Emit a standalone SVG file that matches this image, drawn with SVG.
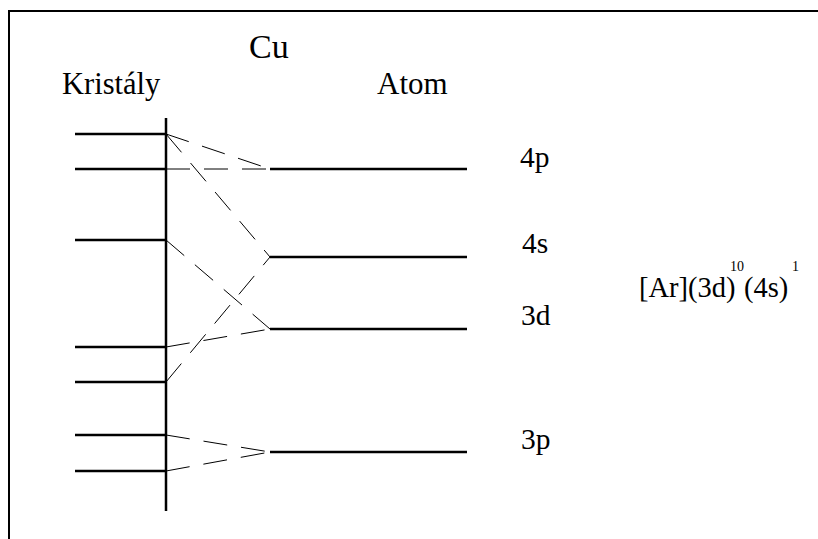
<svg xmlns="http://www.w3.org/2000/svg" width="818" height="539" viewBox="0 0 818 539">
<style>
text{font-family:"Liberation Serif","Times New Roman",serif;fill:#000}
.lv{stroke:#000;stroke-width:2.5;fill:none}
.cn{stroke:#000;stroke-width:1;stroke-dasharray:24 14;fill:none}
.fr{stroke:#000;stroke-width:2;fill:none}
</style>
<rect width="818" height="539" fill="#fff"/>
<path class="fr" d="M9,539 V11 H818"/>
<g id="titles">
<text x="249" y="58" font-size="34">Cu</text>
<text x="62" y="94" font-size="30.5">Kristály</text>
<text x="377" y="94" font-size="31">Atom</text>
</g>
<g id="crystal">
<line class="lv" x1="166" y1="118" x2="166" y2="511"/>
<line class="lv" x1="75" y1="134" x2="166" y2="134"/>
<line class="lv" x1="75" y1="169" x2="166" y2="169"/>
<line class="lv" x1="75" y1="240" x2="166" y2="240"/>
<line class="lv" x1="75" y1="347" x2="166" y2="347"/>
<line class="lv" x1="75" y1="382" x2="166" y2="382"/>
<line class="lv" x1="75" y1="435" x2="166" y2="435"/>
<line class="lv" x1="75" y1="471" x2="166" y2="471"/>
</g>
<g id="atom-4p"><line class="lv" x1="270" y1="169" x2="467" y2="169"/><text x="520" y="167" font-size="29.5">4p</text></g>
<g id="atom-4s"><line class="lv" x1="270" y1="257" x2="467" y2="257"/><text x="522" y="253" font-size="29.5">4s</text></g>
<g id="atom-3d"><line class="lv" x1="270" y1="329" x2="467" y2="329"/><text x="521" y="325" font-size="29.5">3d</text></g>
<g id="atom-3p"><line class="lv" x1="270" y1="452" x2="467" y2="452"/><text x="521" y="449" font-size="29.5">3p</text></g>
<g id="config">
<text x="639" y="297" font-size="28.5">[Ar](3d)</text>
<text x="730" y="271" font-size="14">10</text>
<text x="744" y="297" font-size="28.5">(4s)</text>
<text x="792" y="271" font-size="14">1</text>
</g>
<g id="connectors">
<line class="cn" x1="166" y1="134" x2="270" y2="169"/>
<line class="cn" x1="166" y1="169" x2="270" y2="169"/>
<line class="cn" x1="166" y1="134" x2="270" y2="257"/>
<line class="cn" x1="166" y1="240" x2="270" y2="329"/>
<line class="cn" x1="166" y1="382" x2="270" y2="257"/>
<line class="cn" x1="166" y1="347" x2="270" y2="329"/>
<line class="cn" x1="166" y1="435" x2="270" y2="452"/>
<line class="cn" x1="166" y1="471" x2="270" y2="452"/>
</g>
</svg>
